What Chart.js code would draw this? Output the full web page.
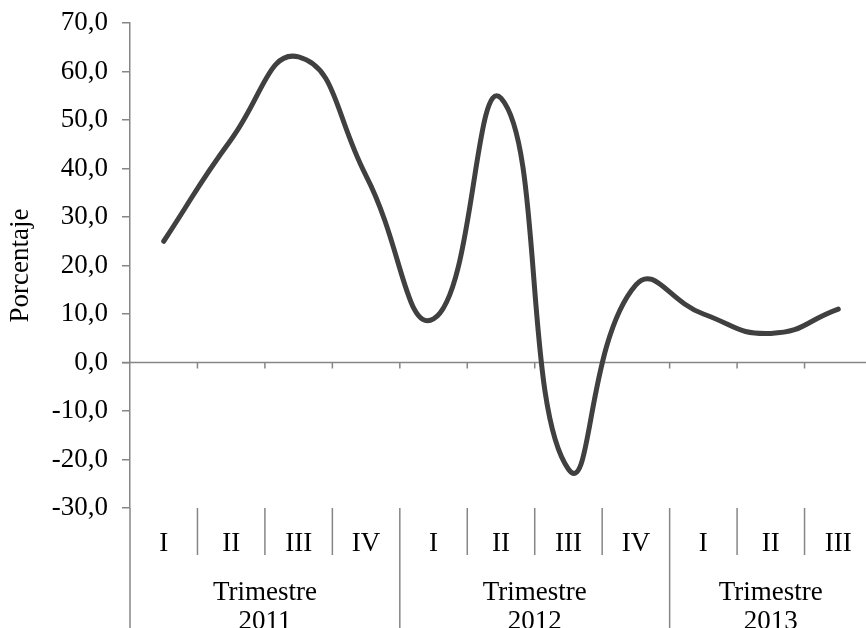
<!DOCTYPE html>
<html>
<head>
<meta charset="utf-8">
<script src="https://cdn.jsdelivr.net/npm/chart.js@4/dist/chart.umd.min.js"></script>
<style>
  html, body { margin: 0; padding: 0; background: #fff; overflow: hidden; }
  #wrap { width: 872px; height: 628px; }
</style>
</head>
<body>
<div id="wrap"><canvas id="chart" width="872" height="628"></canvas></div>
<script>
// Variación trimestral (porcentaje)
const quarters = ['I', 'II', 'III', 'IV', 'I', 'II', 'III', 'IV', 'I', 'II', 'III']
const years = ['2011', '2012', '2013']
const quartersPerYear = [4, 4, 3]
const porcentaje = [25, 46, 63, 38.5, 9, 54.5, -22, 16, 10, 6, 11]
const yMin = -30
const yMax = 70
const yStep = 10

const axisGray = '#868686'
const serif = 'Liberation Serif, Times New Roman, serif'
const fontSize = 27

// zero line with its ticks, plus the grouped labels under the plot
const groupAxis = {
  id: 'groupAxis',
  beforeDatasetsDraw(chart) {
    const { ctx, scales: { x, y } } = chart
    const y0 = y.getPixelForValue(0)
    ctx.save()
    ctx.strokeStyle = axisGray
    ctx.lineWidth = 1.5
    ctx.beginPath()
    ctx.moveTo(x.left - 8, y0)
    ctx.lineTo(x.right, y0)
    for (let i = 1; i < quarters.length; i++) {
      const bx = (x.getPixelForValue(i - 1) + x.getPixelForValue(i)) / 2
      ctx.moveTo(bx, y0)
      ctx.lineTo(bx, y0 + 6)
    }
    ctx.stroke()
    ctx.restore()
  },
  afterDraw(chart) {
    const { ctx, scales: { x, y } } = chart
    const top = y.bottom
    const bottom = chart.height
    const boundary = (i) => {
      if (i <= 0) return x.left
      if (i >= quarters.length) return x.right
      return (x.getPixelForValue(i - 1) + x.getPixelForValue(i)) / 2
    }
    ctx.save()
    ctx.strokeStyle = axisGray
    ctx.lineWidth = 1.5
    ctx.beginPath()
    // y axis continues down through the label area
    ctx.moveTo(x.left, top)
    ctx.lineTo(x.left, bottom)
    let start = 0
    const groupEdges = [0]
    quartersPerYear.forEach(n => { start += n; groupEdges.push(start) })
    for (let i = 1; i < quarters.length; i++) {
      const bx = boundary(i)
      ctx.moveTo(bx, top)
      ctx.lineTo(bx, groupEdges.includes(i) ? bottom : top + 47)
    }
    ctx.stroke()

    ctx.fillStyle = '#000'
    ctx.font = fontSize + 'px ' + serif
    ctx.textAlign = 'center'
    ctx.textBaseline = 'alphabetic'
    years.forEach((yr, g) => {
      const cx = (boundary(groupEdges[g]) + boundary(groupEdges[g + 1])) / 2
      ctx.fillText('Trimestre', cx, 600)
      ctx.fillText(yr, cx, 629)
    })
    ctx.restore()
  }
}

new Chart(document.getElementById('chart'), {
  type: 'line',
  data: {
    labels: quarters,
    datasets: [{
      label: 'Porcentaje',
      data: porcentaje,
      borderColor: '#404040',
      borderWidth: 5,
      borderCapStyle: 'round',
      borderJoinStyle: 'round',
      pointRadius: 0,
      tension: 0.5,
      fill: false
    }]
  },
  options: {
    responsive: false,
    animation: false,
    layout: { padding: { top: 23, right: 0, bottom: 0, left: 0 } },
    plugins: {
      legend: { display: false },
      tooltip: { enabled: false }
    },
    scales: {
      x: {
        type: 'category',
        offset: true,
        grid: { display: false, drawTicks: false },
        border: { display: false },
        ticks: {
          autoSkip: false,
          maxRotation: 0,
          padding: 20,
          color: '#000',
          font: { family: serif, size: fontSize }
        },
        afterFit: (scale) => { scale.height = 120 }
      },
      y: {
        min: yMin,
        max: yMax,
        border: { display: true, color: axisGray, width: 1.5 },
        grid: { drawOnChartArea: false, drawTicks: true, tickLength: 8, color: axisGray, lineWidth: 1.5 },
        ticks: {
          stepSize: yStep,
          padding: 14,
          color: '#000',
          font: { family: serif, size: fontSize },
          callback: (v) => v.toFixed(1).replace('.', ',')
        },
        title: {
          display: true,
          text: 'Porcentaje',
          color: '#000',
          padding: { top: 5, bottom: 0 },
          font: { family: serif, size: fontSize }
        },
        afterFit: (scale) => {
          scale.width = 130
          scale.paddingTop = 0
          scale.paddingBottom = 0
        }
      }
    }
  },
  plugins: [groupAxis]
})
</script>
</body>
</html>
